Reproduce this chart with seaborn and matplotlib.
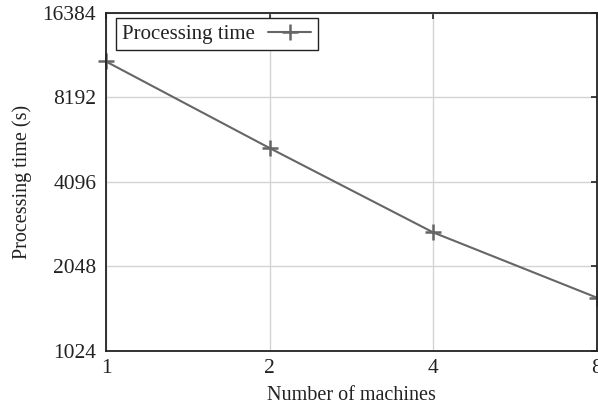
import matplotlib
matplotlib.use("Agg")
import matplotlib.pyplot as plt
import seaborn as sns
import pandas as pd

machines = [1, 2, 4, 8]
processing_time = [11000, 5400, 2700, 1580]
y_ticks = [1024, 2048, 4096, 8192, 16384]
x_ticks = [1, 2, 4, 8]

sns.set_style("white")
plt.rcParams["font.family"] = ["Liberation Serif", "DejaVu Serif"]

df = pd.DataFrame({"Number of machines": machines, "Processing time (s)": processing_time})

fig = plt.figure(figsize=(5.98, 4.07), dpi=100)
ax = fig.add_axes([106 / 598, 1 - 350.5 / 407, 491 / 598, 337.5 / 407])

line_color = "#666666"
sns.lineplot(data=df, x="Number of machines", y="Processing time (s)", ax=ax,
             color=line_color, linewidth=1.5, marker="+", markersize=12,
             markeredgewidth=1.8, markeredgecolor=line_color,
             markerfacecolor=line_color, label="Processing time", clip_on=False)

ax.set_xscale("log", base=2)
ax.set_yscale("log", base=2)
ax.set_xlim(1, 8)
ax.set_ylim(1024, 16384)
ax.set_xticks(x_ticks)
ax.set_xticklabels([str(v) for v in x_ticks])
ax.set_yticks(y_ticks)
ax.set_yticklabels([str(v) for v in y_ticks])
ax.minorticks_off()

ax.grid(True, color="#d4d4d4", linewidth=1.0)
ax.set_axisbelow(True)
ax.tick_params(direction="in", length=4, width=1.2, color="#222222",
               labelsize=15.5, labelcolor="#222222", top=True, right=True)
ax.tick_params(axis="y", pad=7)
ax.tick_params(axis="x", pad=6)
for s in ax.spines.values():
    s.set_color("#222222")
    s.set_linewidth(1.3)

ax.set_xlabel("Number of machines", fontsize=14.5, labelpad=6, color="#222222")
ax.set_ylabel("Processing time (s)", fontsize=14.5, labelpad=8, color="#222222")

leg = ax.legend(loc="upper left", markerfirst=False, fontsize=15, frameon=True,
                fancybox=False, edgecolor="#222222", framealpha=1,
                borderpad=0.3, borderaxespad=0, handlelength=2.1, handletextpad=0.6,
                bbox_to_anchor=(10 / 491, 1 - 5 / 337.5))
leg.get_frame().set_linewidth(1.0)
for t in leg.get_texts():
    t.set_color("#222222")

fig.savefig("out.png", dpi=100)
